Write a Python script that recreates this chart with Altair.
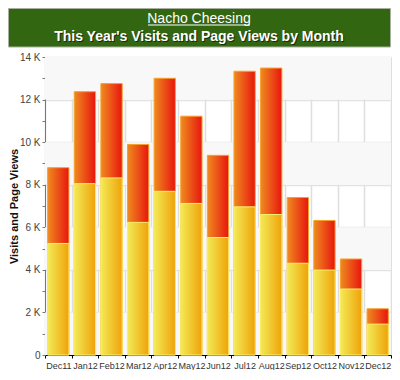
import altair as alt
import pandas as pd

months = ["Dec11", "Jan12", "Feb12", "Mar12", "Apr12", "May12", "Jun12",
          "Jul12", "Aug12", "Sep12", "Oct12", "Nov12", "Dec12"]
page_views = [8800, 12370, 12750, 9890, 13000, 11220, 9380,
              13330, 13480, 7400, 6320, 4510, 2170]
visits = [5240, 8050, 8320, 6230, 7690, 7120, 5520,
          6960, 6600, 4310, 3990, 3100, 1450]
band_starts = [0, 4000, 8000, 12000]
band_ends = [2000, 6000, 10000, 14000]

title_line1 = "Nacho Cheesing"
title_line2 = "This Year's Visits and Page Views by Month"
y_title = "Visits and Page Views"

df = pd.DataFrame({"month": months, "views": page_views, "visits": visits})
bands = pd.DataFrame({"y0": band_starts, "y1": band_ends})

x_axis = alt.Axis(
    labelAngle=0, labelFont="Liberation Sans", labelFontSize=9,
    labelColor="#333333", labelPadding=3, tickBand="extent",
    tickSize=3, tickColor="#000000", domainColor="#000000",
    grid=True, gridColor="#dedede", gridWidth=1.5,
)
x_enc = alt.X("month:N", sort=months, title=None,
              scale=alt.Scale(paddingInner=0, paddingOuter=0), axis=x_axis)
y_scale = alt.Scale(domain=[0, 14000], nice=False)
y_axis = alt.Axis(
    values=list(range(0, 14001, 1000)),
    labelExpr="datum.value % 2000 != 0 ? '' : (datum.value == 0 ? '0' : (datum.value / 1000) + ' K')",
    labelFont="Liberation Sans", labelFontSize=10, labelColor="#444444",
    labelPadding=2, tickSize=3, tickColor="#777777", domainColor="#777777",
    titleFont="Liberation Sans", titleFontSize=11, titleFontWeight="bold",
    titleColor="#111111", titleX=-26, titleBaseline="bottom",
    grid=True, gridColor="#e2e2e2", gridWidth=1.5,
    gridOpacity={"condition": {"test": "datum.value % 2000 == 0", "value": 1}, "value": 0},
)

band_layer = alt.Chart(bands).mark_rect(color="#f8f8f8").encode(
    y=alt.Y("y0:Q", scale=y_scale, axis=y_axis, title=y_title), y2="y1:Q"
)

red_grad = alt.Gradient(
    gradient="linear", x1=0, x2=1, y1=0, y2=0,
    stops=[alt.GradientStop(color="#ef8a20", offset=0),
           alt.GradientStop(color="#e8160e", offset=1)],
)
yellow_grad = alt.Gradient(
    gradient="linear", x1=0, x2=1, y1=0, y2=0,
    stops=[alt.GradientStop(color="#f3ea55", offset=0),
           alt.GradientStop(color="#efa20a", offset=1)],
)

views_layer = alt.Chart(df).mark_bar(
    color=red_grad, stroke="#f6a12a", strokeWidth=1,
    width=alt.RelativeBandSize(0.8),
).encode(x=x_enc, y=alt.Y("views:Q", scale=y_scale, axis=y_axis, title=y_title))

visits_layer = alt.Chart(df).mark_bar(
    color=yellow_grad, stroke="#fbee6a", strokeWidth=1,
    width=alt.RelativeBandSize(0.8),
).encode(x=x_enc, y=alt.Y("visits:Q", scale=y_scale, axis=y_axis, title=y_title))

hdr = pd.DataFrame({"a": [0]})
header_box = alt.Chart(hdr).mark_rect(
    color="#336611", stroke="#a8b0a0", strokeWidth=1, clip=False
).encode(
    x=alt.value(-36.5), x2=alt.value(345.5), y=alt.value(-48.5), y2=alt.value(-10)
)
header_t1 = alt.Chart(hdr).mark_text(
    text=title_line1, font="Liberation Sans", fontSize=14, color="#ffffff",
    align="center", baseline="alphabetic", clip=False
).encode(x=alt.value(154), y=alt.value(-34))
underline = alt.Chart(hdr).mark_rule(color="#ffffff", strokeWidth=1, clip=False).encode(
    x=alt.value(103), x2=alt.value(205), y=alt.value(-32)
)
header_shadow = alt.Chart(hdr).mark_text(
    text=title_line2, font="Liberation Sans", fontSize=14, fontWeight="bold",
    color="#1a2a08", align="center", baseline="alphabetic", clip=False
).encode(x=alt.value(155), y=alt.value(-15))
header_t2 = alt.Chart(hdr).mark_text(
    text=title_line2, font="Liberation Sans", fontSize=14, fontWeight="bold",
    color="#ffffff", align="center", baseline="alphabetic", clip=False
).encode(x=alt.value(154), y=alt.value(-16))

chart = alt.layer(
    band_layer, views_layer, visits_layer,
    header_box, header_t1, underline, header_shadow, header_t2,
).properties(
    width=346, height=298, padding=0, background="#ffffff"
).configure_view(stroke=None)

chart.save("out.html", embed_options={"renderer": "svg", "actions": False})
